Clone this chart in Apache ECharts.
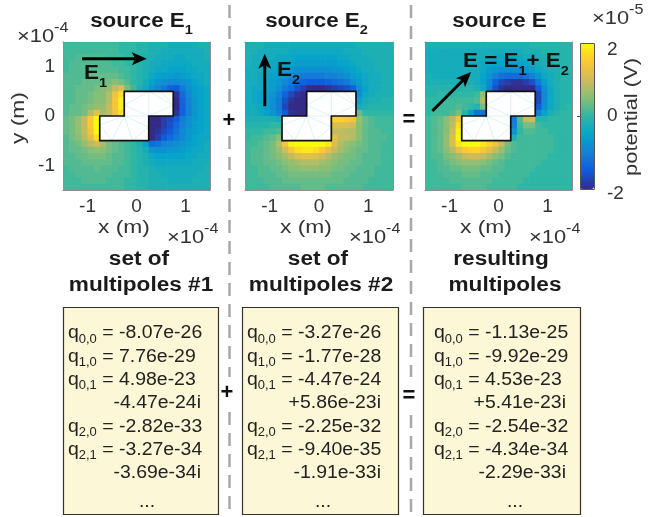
<!DOCTYPE html>
<html>
<head>
<meta charset="utf-8">
<title>multipoles</title>
<script src="https://cdn.jsdelivr.net/npm/echarts@6.0.0/dist/echarts.min.js"></script>
<style>
  html, body { margin: 0; padding: 0; background: #fff; }
  #chart { width: 672px; height: 517px; }
</style>
</head>
<body>
<div id="chart"></div>
<script>
// potential maps: 24 x 24 cells of 0.125e-4 m, values in 1e-6 V,
// rows from the top (y = 1.44e-4 m) down, columns from x = -1.44e-4 m
const _ = null; // inside the conductor

const fieldE1 = [
  [1,1,1,1,1,1,1,1,1,0,0,0,-1,-1,-2,-2,-2,-3,-3,-3,-3,-3,-2,-2],
  [1,1,1,1,1,1,1,1,1,0,0,0,-1,-1,-2,-2,-3,-3,-3,-3,-3,-3,-3,-2],
  [1,1,2,2,2,2,2,1,1,1,0,0,-1,-2,-2,-3,-3,-3,-4,-4,-3,-3,-3,-2],
  [1,2,2,2,2,2,2,2,1,1,0,0,-1,-2,-3,-3,-4,-4,-4,-4,-4,-3,-3,-3],
  [1,2,2,2,2,2,2,2,2,1,1,0,-1,-2,-3,-4,-4,-5,-5,-5,-4,-4,-3,-3],
  [2,2,2,2,3,3,3,3,3,2,1,0,-1,-2,-4,-5,-6,-6,-7,-6,-5,-4,-4,-3],
  [2,2,2,3,3,3,4,4,5,4,2,0,-1,-3,-5,-7,-8,-9,-9,-8,-7,-5,-4,-3],
  [2,2,3,3,3,4,5,6,9,11,4,1,-2,-4,-7,-9,-11,-14,-15,-11,-8,-6,-5,-4],
  [2,2,3,3,4,5,5,8,13,17,_,_,_,_,_,_,_,_,-19,-13,-9,-6,-5,-4],
  [2,2,3,3,4,5,5,8,14,19,_,_,_,_,_,_,_,_,-20,-14,-10,-7,-5,-4],
  [2,3,3,4,5,6,6,9,14,19,_,_,_,_,_,_,_,_,-20,-14,-10,-7,-5,-4],
  [2,3,3,4,8,12,7,9,13,17,_,_,_,_,_,_,_,_,-19,-14,-10,-7,-5,-4],
  [3,4,6,9,15,21,_,_,_,_,_,_,_,_,-21,-20,-18,-17,-15,-11,-8,-6,-5,-4],
  [3,4,6,9,15,21,_,_,_,_,_,_,_,_,-21,-20,-18,-16,-13,-10,-8,-6,-5,-4],
  [3,4,6,9,14,20,_,_,_,_,_,_,_,_,-21,-19,-17,-15,-12,-9,-7,-6,-5,-4],
  [2,4,5,8,12,17,_,_,_,_,_,_,_,_,-20,-18,-15,-13,-11,-9,-7,-5,-4,-4],
  [2,3,4,6,8,10,7,4,3,2,1,0,-2,-5,-13,-12,-10,-9,-8,-7,-6,-5,-4,-3],
  [2,3,3,4,5,6,5,4,3,2,1,0,-1,-3,-7,-8,-8,-7,-7,-6,-5,-4,-4,-3],
  [2,2,3,3,4,4,4,3,2,2,1,0,-1,-2,-4,-5,-5,-5,-5,-5,-4,-4,-3,-3],
  [2,2,2,3,3,3,3,3,2,2,1,0,-1,-2,-3,-4,-4,-4,-4,-4,-4,-3,-3,-3],
  [1,2,2,2,2,3,2,2,2,1,1,0,-1,-1,-2,-3,-3,-3,-3,-3,-3,-3,-3,-2],
  [1,1,2,2,2,2,2,2,1,1,1,0,-1,-1,-2,-2,-3,-3,-3,-3,-3,-3,-2,-2],
  [1,1,1,2,2,2,2,1,1,1,0,0,-1,-1,-2,-2,-2,-3,-3,-3,-3,-2,-2,-2],
  [1,1,1,1,1,1,1,1,1,1,0,0,-1,-1,-2,-2,-2,-2,-2,-2,-2,-2,-2,-2]
];

const fieldE2 = [
  [-2,-2,-2,-3,-3,-3,-3,-3,-3,-3,-3,-3,-3,-3,-3,-3,-3,-3,-2,-2,-2,-2,-2,-2],
  [-2,-2,-3,-3,-3,-3,-3,-4,-4,-4,-4,-4,-4,-4,-4,-4,-3,-3,-3,-2,-2,-2,-2,-2],
  [-2,-3,-3,-3,-3,-4,-4,-4,-5,-5,-5,-5,-5,-5,-5,-4,-4,-3,-3,-3,-2,-2,-2,-2],
  [-2,-3,-3,-3,-4,-4,-5,-5,-6,-6,-6,-6,-6,-6,-6,-5,-5,-4,-3,-3,-3,-2,-2,-2],
  [-3,-3,-3,-4,-4,-5,-6,-7,-8,-8,-8,-8,-8,-8,-7,-7,-6,-5,-4,-3,-3,-2,-2,-2],
  [-3,-3,-4,-4,-5,-6,-7,-9,-10,-11,-11,-11,-11,-10,-10,-9,-8,-6,-5,-4,-3,-3,-2,-2],
  [-3,-3,-4,-5,-6,-7,-9,-11,-13,-14,-15,-15,-15,-14,-13,-12,-11,-8,-6,-4,-3,-3,-2,-2],
  [-3,-4,-4,-5,-6,-8,-11,-13,-16,-18,-20,-20,-20,-19,-18,-17,-16,-14,-8,-5,-3,-3,-2,-2],
  [-3,-4,-5,-6,-7,-10,-14,-17,-19,-20,_,_,_,_,_,_,_,_,-8,-4,-3,-2,-2,-2],
  [-3,-4,-5,-6,-8,-11,-16,-19,-20,-21,_,_,_,_,_,_,_,_,-5,-3,-2,-2,-1,-1],
  [-3,-3,-4,-6,-8,-11,-17,-20,-21,-21,_,_,_,_,_,_,_,_,-3,-2,-1,-1,-1,-1],
  [-3,-3,-4,-5,-7,-10,-15,-19,-21,-22,_,_,_,_,_,_,_,_,3,0,0,0,0,0],
  [-2,-2,-2,-2,-2,-3,_,_,_,_,_,_,_,_,16,16,15,14,6,3,2,1,1,1],
  [-1,-1,-1,-1,0,0,_,_,_,_,_,_,_,_,11,11,11,10,5,3,2,1,1,1],
  [0,0,0,1,1,2,_,_,_,_,_,_,_,_,9,9,8,8,5,3,2,2,1,1],
  [0,1,1,2,3,5,_,_,_,_,_,_,_,_,12,9,9,8,5,3,2,2,2,1],
  [1,1,2,3,4,8,14,19,21,21,21,21,20,18,11,8,6,5,4,3,2,2,1,1],
  [1,2,2,3,4,6,10,14,17,18,18,17,15,12,9,7,5,4,3,3,2,2,1,1],
  [1,2,2,3,4,5,7,9,11,12,12,11,10,8,6,5,4,4,3,2,2,2,1,1],
  [1,2,2,3,3,4,5,6,7,8,8,8,7,6,5,4,4,3,3,2,2,2,1,1],
  [1,1,2,2,3,3,4,5,5,6,6,6,5,5,4,4,3,3,2,2,2,1,1,1],
  [1,1,2,2,2,3,3,4,4,4,4,4,4,4,3,3,3,2,2,2,2,1,1,1],
  [1,1,1,2,2,2,3,3,3,3,3,3,3,3,3,3,2,2,2,2,1,1,1,1],
  [1,1,1,1,2,2,2,2,2,3,3,3,3,2,2,2,2,2,2,1,1,1,1,1]
];

const fieldE = [
  [-2,-2,-2,-2,-2,-2,-2,-2,-2,-2,-2,-2,-2,-2,-2,-2,-2,-1,-1,-1,-1,-1,-1,-1],
  [-3,-3,-3,-3,-3,-3,-3,-3,-3,-3,-3,-3,-3,-3,-3,-3,-2,-2,-2,-1,-1,-1,-1,-1],
  [-3,-3,-3,-3,-3,-3,-3,-3,-3,-3,-3,-4,-4,-4,-4,-4,-3,-3,-2,-2,-1,-1,-1,-1],
  [-3,-3,-3,-3,-3,-3,-3,-3,-3,-4,-4,-5,-5,-5,-5,-5,-5,-4,-3,-2,-2,-1,-1,-1],
  [-3,-3,-3,-3,-3,-3,-3,-3,-3,-4,-6,-7,-8,-8,-8,-8,-7,-6,-4,-3,-2,-2,-1,-1],
  [-2,-3,-3,-3,-3,-3,-3,-3,-3,-5,-7,-10,-12,-13,-13,-13,-12,-10,-7,-4,-3,-2,-1,-1],
  [-2,-2,-2,-2,-2,-2,-2,-2,-3,-5,-9,-14,-17,-18,-19,-19,-18,-16,-11,-6,-3,-2,-1,-1],
  [-1,-1,-1,-1,-1,-1,-1,-1,-2,-4,-10,-16,-19,-20,-21,-21,-21,-20,-15,-8,-4,-2,-1,-1],
  [-1,-1,0,0,0,0,0,0,1,6,_,_,_,_,_,_,_,_,-17,-9,-4,-2,-1,-1],
  [0,0,0,1,1,1,1,1,2,8,_,_,_,_,_,_,_,_,-17,-9,-4,-2,-1,-1],
  [0,0,1,1,1,2,1,0,-1,4,_,_,_,_,_,_,_,_,-15,-8,-4,-2,-1,0],
  [0,1,1,1,2,4,-1,-6,-12,-12,_,_,_,_,_,_,_,_,-10,-5,-2,-1,0,0],
  [1,2,3,5,8,14,_,_,_,_,_,_,_,_,-11,2,9,10,-1,-1,0,0,0,0],
  [1,2,3,5,9,17,_,_,_,_,_,_,_,_,-10,1,4,4,1,0,0,0,0,0],
  [1,2,3,5,10,19,_,_,_,_,_,_,_,_,-7,0,2,2,1,1,0,0,0,0],
  [1,2,3,6,11,20,_,_,_,_,_,_,_,_,-2,1,1,1,1,1,1,0,0,0],
  [1,2,3,6,11,18,21,21,20,18,16,13,9,4,2,1,1,1,1,1,1,0,0,0],
  [1,2,3,5,8,12,15,16,16,14,12,9,6,3,2,1,1,1,1,1,1,0,0,0],
  [1,2,2,4,5,7,9,10,10,9,7,5,4,2,1,1,1,1,1,1,0,0,0,0],
  [1,1,2,3,4,5,6,6,6,5,4,3,2,1,1,1,1,1,1,0,0,0,0,0],
  [1,1,2,2,3,3,4,4,4,3,3,2,2,1,1,1,1,1,0,0,0,0,0,0],
  [1,1,1,2,2,2,3,3,3,2,2,2,1,1,1,1,1,0,0,0,0,0,0,0],
  [1,1,1,1,2,2,2,2,2,2,2,1,1,1,1,1,0,0,0,0,0,0,0,0],
  [1,1,1,1,1,1,2,2,2,2,1,1,1,1,1,0,0,0,0,0,0,0,0,0]
];

const cellSize = 0.125;
const firstCentre = -1.4375;
const tickValues = [-1, 0, 1];
const colorTicks = [-20, 0, 20];

// conductor outline and its mesh (1e-4 m)
const conductor = [[-0.75, -0.5], [0.25, -0.5], [0.25, 0], [0.75, 0], [0.75, 0.5], [-0.25, 0.5], [-0.25, 0], [-0.75, 0]];
const meshEdges = [
  [[0.25, 0.5], [0.25, 0]], [[0.25, 0.5], [0.75, 0.22]], [[0.5, 0.5], [0.75, 0.22]],
  [[0.25, 0.5], [-0.25, 0.22]], [[-0.25, 0.22], [0.25, 0]], [[0.25, 0], [0.75, 0.22]], [[-0.25, 0], [0.25, 0]],
  [[-0.75, -0.18], [-0.25, 0]], [[-0.75, -0.18], [-0.5, -0.5]], [[-0.5, -0.5], [-0.25, 0]],
  [[-0.25, 0], [-0.08, -0.5]], [[-0.25, 0], [0.25, -0.22]], [[-0.08, -0.5], [0.25, -0.22]]
];

// field direction arrows: tail x, tail y, tip x, tip y
const arrowE1 = [-1.11, 1.16, 0.21, 1.16];
const arrowE2 = [-1.1, 0.2, -1.1, 1.26];
const arrowE = [-1.35, 0.1, -0.56, 0.89];

// multipole coefficients
const qIndex = ['0,0', '1,0', '0,1', '2,0', '2,1'];
const set1Re = ['-8.07e-26', '7.76e-29', '4.98e-23', '-2.82e-33', '-3.27e-34'];
const set1Im = [null, null, '-4.47e-24i', null, '-3.69e-34i'];
const set2Re = ['-3.27e-26', '-1.77e-28', '-4.47e-24', '-2.25e-32', '-9.40e-35'];
const set2Im = [null, null, '+5.86e-23i', null, '-1.91e-33i'];
const sumRe = ['-1.13e-25', '-9.92e-29', '4.53e-23', '-2.54e-32', '-4.34e-34'];
const sumIm = [null, null, '+5.41e-23i', null, '-2.29e-33i'];

const parula = ['#352a87', '#0f5cdd', '#1481d6', '#06a4ca', '#2eb7a4', '#87bf77', '#d1bb59', '#fec832', '#f9fb0e'];
const FONT = 'Liberation Sans';

function toCells(field) {
  const out = [];
  field.forEach((row, k) => row.forEach((v, i) => {
    if (v !== null) out.push([firstCentre + i * cellSize, -firstCentre - k * cellSize, v]);
  }));
  return out;
}

function cellItem(params, api) {
  const x = api.value(0), y = api.value(1), h = cellSize / 2;
  const a = api.coord([x - h, y + h]), b = api.coord([x + h, y - h]);
  return {
    type: 'rect',
    shape: { x: a[0], y: a[1], width: b[0] - a[0] + 0.7, height: b[1] - a[1] + 0.7 },
    style: { fill: api.visual('color') }
  };
}

function conductorItem(params, api) {
  const pts = conductor.map(p => api.coord(p));
  const kids = [{ type: 'polygon', shape: { points: pts }, style: { fill: '#fff' } }];
  meshEdges.forEach(e => {
    const a = api.coord(e[0]), b = api.coord(e[1]);
    kids.push({ type: 'line', shape: { x1: a[0], y1: a[1], x2: b[0], y2: b[1] },
      style: { stroke: 'rgba(130,210,230,0.4)', lineWidth: 0.7 } });
  });
  kids.push({ type: 'polygon', shape: { points: pts }, style: { fill: 'none', stroke: '#111', lineWidth: 1.7, lineJoin: 'round' } });
  return { type: 'group', children: kids };
}

function arrowItem(params, api) {
  const s = api.coord([api.value(0), api.value(1)]), t = api.coord([api.value(2), api.value(3)]);
  const dx = t[0] - s[0], dy = t[1] - s[1], len = Math.hypot(dx, dy);
  const ux = dx / len, uy = dy / len, nx = -uy, ny = ux;
  const hl = 15, hw = 6.5, notch = 3.5;
  const bx = t[0] - ux * hl, by = t[1] - uy * hl;
  const mx = t[0] - ux * (hl - notch), my = t[1] - uy * (hl - notch);
  return { type: 'group', children: [
    { type: 'line', shape: { x1: s[0], y1: s[1], x2: mx, y2: my }, style: { stroke: '#000', lineWidth: 3 } },
    { type: 'polygon', shape: { points: [t, [bx + nx * hw, by + ny * hw], [mx, my], [bx - nx * hw, by - ny * hw]] }, style: { fill: '#000' } }
  ] };
}

const panels = [
  { left: 63, width: 147, field: fieldE1, arrow: arrowE1 },
  { left: 245, width: 148, field: fieldE2, arrow: arrowE2 },
  { left: 425, width: 147, field: fieldE, arrow: arrowE }
];

const grids = [], xAxes = [], yAxes = [], series = [], heatIdx = [];
const axisGray = '#8c8c8c';

function axis(n, pos, labels) {
  return {
    gridIndex: n, type: 'value', min: -1.5, max: 1.5, position: pos,
    axisLine: { show: true, onZero: false, lineStyle: { color: axisGray, width: 1 } },
    axisTick: { show: true, inside: true, length: 4, customValues: tickValues, lineStyle: { color: axisGray } },
    axisLabel: { show: labels, customValues: tickValues, margin: pos === 'bottom' ? 7 : 8, fontSize: 19, color: '#333', fontFamily: FONT },
    splitLine: { show: false }
  };
}

panels.forEach((p, n) => {
  grids.push({ left: p.left, top: 42, width: p.width, height: 148, outerBoundsMode: 'none', containLabel: false });
  xAxes.push(axis(n, 'bottom', true), axis(n, 'top', false));
  yAxes.push(axis(n, 'left', n === 0), axis(n, 'right', false));
  heatIdx.push(series.length);
  series.push({ type: 'custom', xAxisIndex: 2 * n, yAxisIndex: 2 * n, renderItem: cellItem,
    data: toCells(p.field), clip: true, silent: true, z: 2 });
  series.push({ type: 'custom', xAxisIndex: 2 * n, yAxisIndex: 2 * n, renderItem: conductorItem,
    data: [[0, 0]], silent: true, z: 3 });
  series.push({ type: 'custom', xAxisIndex: 2 * n, yAxisIndex: 2 * n, renderItem: arrowItem,
    data: [p.arrow], silent: true, z: 4 });
});

// colorbar
grids.push({ left: 580, top: 43, width: 14, height: 146, outerBoundsMode: 'none', containLabel: false });
xAxes.push({ gridIndex: 3, type: 'value', min: 0, max: 1, show: false });
yAxes.push({
  gridIndex: 3, type: 'value', min: -20, max: 20, position: 'right',
  axisLine: { show: false },
  axisTick: { show: true, inside: true, length: 3, customValues: [0], lineStyle: { color: '#555' } },
  axisLabel: {
    customValues: colorTicks, margin: 13, fontSize: 19, color: '#333', fontFamily: FONT,
    formatter: v => v > 0 ? '{hi|' + v / 10 + '}' : v < 0 ? '{lo|' + v / 10 + '}' : String(v / 10),
    rich: {
      hi: { fontSize: 19, color: '#333', fontFamily: FONT, padding: [14, 0, 0, 0] },
      lo: { fontSize: 19, color: '#333', fontFamily: FONT, padding: [10, 0, 0, 0] }
    }
  },
  splitLine: { show: false }
});

// text helpers
const graphics = [];
const measure = document.createElement('canvas').getContext('2d');
function textWidth(str, size, bold) {
  measure.font = (bold ? 'bold ' : '') + size + 'px "' + FONT + '"';
  return measure.measureText(str).width;
}
function textRun(x, base, pieces, opt) {
  opt = opt || {};
  const sx = opt.sx || 1.15, bold = !!opt.bold;
  const w = pieces.map(p => textWidth(p[0], p[1], bold) * sx);
  const total = w.reduce((a, b) => a + b, 0);
  let cx = opt.align === 'center' ? x - total / 2 : opt.align === 'right' ? x - total : x;
  pieces.forEach((p, i) => {
    graphics.push({
      type: 'text', x: cx, y: base + (p[2] || 0) - 0.31 * p[1], scaleX: sx, silent: true, z: 100,
      style: { text: p[0], fontSize: p[1], fontFamily: FONT, fontWeight: bold ? 'bold' : 'normal',
        fill: opt.color || '#1a1a1a', align: 'left', verticalAlign: 'middle' }
    });
    cx += w[i];
  });
}
function rotated(x, y, str, size, sx) {
  graphics.push({ type: 'text', x: x, y: y, rotation: Math.PI / 2, scaleX: sx, silent: true, z: 100,
    style: { text: str, fontSize: size, fontFamily: FONT, fontWeight: 'normal', fill: '#333', align: 'center', verticalAlign: 'middle' } });
}
function exponent(x, base, exp) {
  textRun(x, base, [['\u00d710', 19, 0], [exp, 14, -11]], { color: '#333', sx: 1.15 });
}

// titles
textRun(141.5, 28, [['source E', 20, 0], ['1', 13, 6]], { bold: true, align: 'center', sx: 1.12 });
textRun(316.5, 28, [['source E', 20, 0], ['2', 13, 6]], { bold: true, align: 'center', sx: 1.12 });
textRun(499.5, 28, [['source E', 20, 0]], { bold: true, align: 'center', sx: 1.12 });

// labels inside the maps
textRun(84, 80, [['E', 20, 0], ['1', 13, 7]], { bold: true, sx: 1.12, color: '#111' });
textRun(277, 77, [['E', 20, 0], ['2', 13, 7]], { bold: true, sx: 1.12, color: '#111' });
textRun(463, 68, [['E = E', 20, 0], ['1', 13, 7], ['+ E', 20, 0], ['2', 13, 7]], { bold: true, sx: 1.12, color: '#111' });

// axis names and exponents
rotated(19, 118, 'y (m)', 19, 1.2);
exponent(17, 43, '-4');
panels.forEach(p => {
  textRun(p.left + 61, 234, [['x (m)', 19, 0]], { align: 'center', sx: 1.2, color: '#333' });
  exponent(p.left + 104, 244, '-4');
});
exponent(592, 25, '-5');
rotated(632, 117, 'potential (V)', 19, 1.15);

// captions above the boxes
textRun(139, 266, [['set of', 20, 0]], { bold: true, align: 'center', sx: 1.13 });
textRun(141, 292, [['multipoles #1', 20, 0]], { bold: true, align: 'center', sx: 1.13 });
textRun(318, 266, [['set of', 20, 0]], { bold: true, align: 'center', sx: 1.13 });
textRun(321, 292, [['multipoles #2', 20, 0]], { bold: true, align: 'center', sx: 1.13 });
textRun(501, 266, [['resulting', 20, 0]], { bold: true, align: 'center', sx: 1.13 });
textRun(505, 292, [['multipoles', 20, 0]], { bold: true, align: 'center', sx: 1.13 });

// dashed separators, broken around the operators
[[229.5, [[5, 103], [136, 377], [412, 517]]], [411, [[5, 105], [134, 377], [415, 517]]]].forEach(d => {
  d[1].forEach(s => graphics.push({ type: 'line', silent: true, shape: { x1: d[0], y1: s[0], x2: d[0], y2: s[1] },
    style: { stroke: '#a8a8a8', lineWidth: 2.5, lineDash: [13, 8] } }));
});
[[229, 121, '+'], [409, 120, '='], [227, 393, '+'], [409, 396, '=']].forEach(o => {
  graphics.push({ type: 'text', x: o[0], y: o[1], silent: true, z: 100,
    style: { text: o[2], fontSize: 22, fontWeight: 'bold', fontFamily: FONT, fill: '#111', align: 'center', verticalAlign: 'middle' } });
});

// coefficient boxes
const boxes = [
  { x: 63.5, w: 155, left: 68, right: 201, dots: 147, re: set1Re, im: set1Im },
  { x: 242.5, w: 156, left: 247, right: 381, dots: 323, re: set2Re, im: set2Im },
  { x: 423.5, w: 157, left: 434, right: 566, dots: 515, re: sumRe, im: sumIm }
];
const lineBase = 339, lineStep = 23.3;
boxes.forEach(b => {
  graphics.push({ type: 'rect', silent: true, shape: { x: b.x, y: 307.5, width: b.w, height: 207 },
    style: { fill: '#fcf7d6', stroke: '#333', lineWidth: 1.2 } });
  let line = 0;
  qIndex.forEach((q, j) => {
    textRun(b.left, lineBase + line * lineStep, [['q', 18, 0], [q, 12, 4], [' = ' + b.re[j], 18, 0]], { sx: 1.08, color: '#222' });
    line++;
    if (b.im[j]) {
      textRun(b.right, lineBase + line * lineStep, [[b.im[j], 18, 0]], { sx: 1.08, align: 'right', color: '#222' });
      line++;
    }
  });
  textRun(b.dots, 508, [['...', 18, 0]], { sx: 1.08, align: 'center', color: '#222' });
});

// colorbar frame
graphics.push({ type: 'rect', silent: true, z: 100, shape: { x: 580.5, y: 43.5, width: 14, height: 146 },
  style: { fill: 'none', stroke: '#555', lineWidth: 1 } });

const chart = echarts.init(document.getElementById('chart'), null, { renderer: 'canvas' });
chart.setOption({
  animation: false,
  backgroundColor: '#fff',
  grid: grids,
  xAxis: xAxes,
  yAxis: yAxes,
  visualMap: {
    type: 'continuous', min: -20, max: 20, dimension: 2, seriesIndex: heatIdx,
    inRange: { color: parula }, left: 580, top: 43, itemWidth: 14, itemHeight: 146,
    padding: 0, calculable: false, hoverLink: false, text: null
  },
  series: series,
  graphic: { elements: graphics }
});
</script>
</body>
</html>
